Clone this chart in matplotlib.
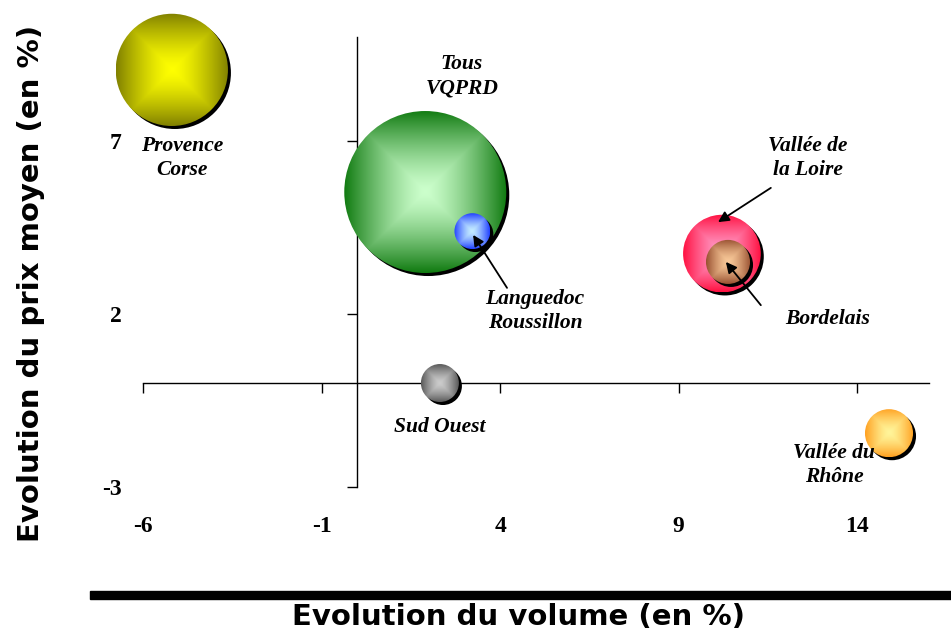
import numpy as np
import matplotlib.pyplot as plt
from matplotlib.patches import Ellipse, Rectangle
from matplotlib.colors import to_rgb

plt.rcParams["axes.unicode_minus"] = False

# données
regions = ["Provence\nCorse", "Tous\nVQPRD", "Languedoc\nRoussillon",
           "Vallée de\nla Loire", "Bordelais", "Sud Ouest", "Vallée du\nRhône"]
volume = [-5.2, 1.9, 3.22, 10.21, 10.38, 2.31, 14.89]
prix = [9.05, 5.52, 4.39, 3.74, 3.5, 0.0, -1.45]
taille = [48, 100, 4.9, 23, 7.4, 5.5, 8.8]

couleur_centre = ["#ffff00", "#ccffcc", "#c4ecff", "#ff9cc8", "#f8c898", "#cccccc", "#fff59a"]
couleur_bord = ["#808000", "#107a10", "#2040ff", "#ff1040", "#985030", "#585858", "#ffa020"]

# position des étiquettes (centre du texte) et flèches éventuelles
pos_label = [(-4.92, 6.5), (2.93, 8.87), (4.97, 2.08), (12.62, 6.5),
             (13.18, 1.85), (2.31, -1.27), (13.36, -2.37)]
fleche_depart = [None, None, (4.19, 2.75), (11.58, 5.64), (11.3, 2.25), None, None]
fleche_arrivee = [None, None, (3.24, 4.28), (10.1, 4.65), (10.32, 3.5), None, None]

x_ticks = [-6, -1, 4, 9, 14]
y_ticks = [-3, 2, 7]

fig = plt.figure(figsize=(9.51, 6.35), dpi=100)
ax = fig.add_axes([0.1131, 0.2061, 0.8859, 0.7792])
ax.set_xlim(-7, 16.6)
ax.set_ylim(-3.5, 10.8)

# axes qui se croisent en 0
for s in ["top", "right"]:
    ax.spines[s].set_visible(False)
ax.spines["bottom"].set_position(("data", 0))
ax.spines["left"].set_position(("data", 0))
ax.spines["bottom"].set_bounds(-6, 16)
ax.spines["left"].set_bounds(-3, 10)
for s in ["bottom", "left"]:
    ax.spines[s].set_linewidth(1.0)
ax.set_xticks(x_ticks)
ax.set_yticks(y_ticks)
ax.tick_params(axis="x", direction="out", length=7, width=1.0, pad=89,
               labelsize=17)
ax.tick_params(axis="y", direction="out", length=7, width=1.0, pad=163,
               labelsize=17)
for lab in ax.get_xticklabels() + ax.get_yticklabels():
    lab.set_family("Liberation Serif")
    lab.set_fontweight("bold")

inv = ax.transData.inverted()
r_max = 81  # rayon en pixels de la plus grosse bulle
u = np.linspace(-1, 1, 300)
U, V = np.meshgrid(u, u)
t = (np.maximum(np.abs(U), np.abs(V)) ** 1.4)[..., None]

for i in range(len(regions)):
    r = r_max * np.sqrt(taille[i] / 100)
    cx, cy = ax.transData.transform((volume[i], prix[i]))
    z = 3 + i
    # ombre
    (sx0, sy0), (sx1, sy1) = inv.transform([(cx - r + 3, cy - r - 3), (cx + r + 3, cy + r - 3)])
    ax.add_patch(Ellipse(((sx0 + sx1) / 2, (sy0 + sy1) / 2), sx1 - sx0, sy1 - sy0,
                         color="black", zorder=z, lw=0))
    # bulle dégradée
    (x0, y0), (x1, y1) = inv.transform([(cx - r, cy - r), (cx + r, cy + r)])
    c0 = np.array(to_rgb(couleur_centre[i]))
    c1 = np.array(to_rgb(couleur_bord[i]))
    img = c0 * (1 - t) + c1 * t
    im = ax.imshow(img, extent=(x0, x1, y0, y1), aspect="auto", zorder=z + 0.5,
                   interpolation="bilinear")
    clip = Ellipse(((x0 + x1) / 2, (y0 + y1) / 2), x1 - x0, y1 - y0,
                   transform=ax.transData)
    im.set_clip_path(clip)

ax.set_xlim(-7, 16.6)
ax.set_ylim(-3.5, 10.8)

for i, nom in enumerate(regions):
    ax.text(pos_label[i][0], pos_label[i][1], nom, ha="center", va="center",
            fontsize=15.5, fontweight="bold", fontstyle="italic",
            family="Liberation Serif", linespacing=1.3, zorder=20)
    if fleche_depart[i] is not None:
        ax.annotate("", xy=fleche_arrivee[i], xytext=fleche_depart[i], zorder=21,
                    arrowprops=dict(arrowstyle="-|>", color="black", lw=1.3,
                                    mutation_scale=16, shrinkA=0, shrinkB=0))

# titres des axes et barre noire
fig.add_artist(Rectangle((90 / 951, 1 - 599 / 635), 861 / 951, 8 / 635,
                         transform=fig.transFigure, color="black"))
fig.text(518 / 951, 1 - 617 / 635, "Evolution du volume (en %)", ha="center",
         va="center", fontsize=21, fontweight="bold")
fig.text(31 / 951, 1 - 283 / 635, "Evolution du prix moyen (en %)", ha="center",
         va="center", rotation=90, fontsize=21, fontweight="bold")

fig.savefig("out.png", dpi=100)
